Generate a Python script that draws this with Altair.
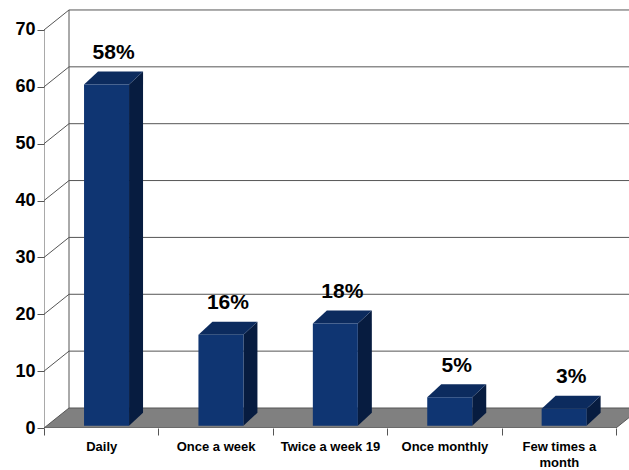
import json
import altair as alt
import pandas as pd

# ---- data ----
categories = ["Daily", "Once a week", "Twice a week 19", "Once monthly", "Few times a month"]
values = [60, 16, 18, 5, 3]
pct_labels = ["58%", "16%", "18%", "5%", "3%"]
y_ticks = [0, 10, 20, 30, 40, 50, 60, 70]

# ---- 3-D style constants (scale units) ----
SLOT_PX = 114.4
UNIT_PX = 5.686
PLOT_W, PLOT_H = 585, 423
X_MAX = PLOT_W / SLOT_PX
Y_MAX = PLOT_H / UNIT_PX
FLOOR_DX, FLOOR_DY = 25 / SLOT_PX, 20 / UNIT_PX
BAR_LEFT, BAR_W = 0.35, 45 / SLOT_PX
BAR_DX, BAR_DY = 14 / SLOT_PX, 13 / UNIT_PX
BAR_OY = 0.4
LABEL_GAP = 5.5
N = len(categories)
TOP = max(y_ticks)

FRONT = "#0f3572"
SIDE = "#071c40"
TOPC = "#0c2b5e"
FLOOR = "#808080"
LINE = "#555555"
FONT = "Liberation Sans"

xs = alt.Scale(domain=[0, X_MAX], nice=False, zero=False)
ys = alt.Scale(domain=[0, Y_MAX], nice=False, zero=False)


def wrap(t):
    return t.rsplit(" ", 1) if len(t) > 15 else t


label_arr = "[" + ",".join(json.dumps(wrap(c)) for c in categories) + "]"
x_axis = alt.Axis(
    values=list(range(N + 1)), tickSize=7, tickColor=LINE, domain=False, grid=False,
    labelExpr=f"datum.value < {N} ? {label_arr}[datum.value] : ''",
    labelOffset=SLOT_PX / 2, labelAlign="center", labelFlush=False, labelOverlap=False,
    labelBound=False, labelFont=FONT, labelFontSize=13, labelFontWeight="bold",
    labelColor="black", labelPadding=5, labelLineHeight=16, title="",
)
y_axis = alt.Axis(
    values=y_ticks, tickSize=7, tickColor=LINE, domain=False, grid=False,
    labelFont=FONT, labelFontSize=18, labelFontWeight="bold", labelColor="black",
    labelPadding=2, labelOverlap=False, labelFlush=False, title="",
)

X = lambda: alt.X("x:Q", scale=xs, axis=x_axis)
Y = lambda: alt.Y("y:Q", scale=ys, axis=y_axis)

# floor parallelogram
floor_df = pd.DataFrame({
    "x": [0, FLOOR_DX, N, N + FLOOR_DX],
    "y": [0, 0, 0, FLOOR_DY],
    "y2": [0, FLOOR_DY, FLOOR_DY, FLOOR_DY],
})
floor = alt.Chart(floor_df).mark_area(color=FLOOR, clip=True).encode(x=X(), y=Y(), y2="y2:Q")

# back wall gridlines
grid_df = pd.DataFrame({"v": y_ticks})
grid_df["y"] = grid_df["v"] + FLOOR_DY
grid_df["x"] = FLOOR_DX
grid_df["x2"] = N + FLOOR_DX
grid = alt.Chart(grid_df).mark_rule(color=LINE, strokeWidth=1, clip=True).encode(
    x=X(), x2="x2:Q", y=Y(),
)

# side wall diagonals
diag_df = pd.DataFrame({"v": y_ticks})
diag_df["x"] = 0.0
diag_df["x2"] = FLOOR_DX
diag_df["y"] = diag_df["v"]
diag_df["y2"] = diag_df["v"] + FLOOR_DY
diag = alt.Chart(diag_df).mark_rule(color=LINE, strokeWidth=1).encode(
    x=X(), x2="x2:Q", y=Y(), y2="y2:Q",
)

# frame lines: front axis, back wall left edge, floor front edge, floor right edge
frame_df = pd.DataFrame({
    "x": [0, FLOOR_DX, 0, N],
    "x2": [0, FLOOR_DX, N, N + FLOOR_DX],
    "y": [0, FLOOR_DY, 0, 0],
    "y2": [TOP, FLOOR_DY + TOP, 0, FLOOR_DY],
})
frame = alt.Chart(frame_df).mark_rule(color=LINE, strokeWidth=1, clip=True).encode(
    x=X(), x2="x2:Q", y=Y(), y2="y2:Q",
)

# bars
front_rows, side_rows, top_rows, lab_rows = [], [], [], []
for i, (c, v, p) in enumerate(zip(categories, values, pct_labels)):
    x0 = i + BAR_LEFT
    x1 = x0 + BAR_W
    b = BAR_OY
    t = BAR_OY + v
    front_rows.append({"c": c, "x": x0, "x2": x1, "y": b, "y2": t})
    side_rows += [
        {"c": c, "x": x1, "y": b, "y2": t},
        {"c": c, "x": x1 + BAR_DX, "y": b + BAR_DY, "y2": t + BAR_DY},
    ]
    top_rows += [
        {"c": c, "x": x0, "y": t, "y2": t},
        {"c": c, "x": x0 + BAR_DX, "y": t, "y2": t + BAR_DY},
        {"c": c, "x": x1, "y": t, "y2": t + BAR_DY},
        {"c": c, "x": x1 + BAR_DX, "y": t + BAR_DY, "y2": t + BAR_DY},
    ]
    lab_rows.append({"c": c, "x": (x0 + x1) / 2 + BAR_DX / 2, "y": t + LABEL_GAP, "t": p})

front = alt.Chart(pd.DataFrame(front_rows)).mark_rect(color=FRONT).encode(
    x=X(), x2="x2:Q", y=Y(), y2="y2:Q",
)
side = alt.Chart(pd.DataFrame(side_rows)).mark_area(color=SIDE).encode(
    x=X(), y=Y(), y2="y2:Q", detail="c:N",
)
topf = alt.Chart(pd.DataFrame(top_rows)).mark_area(color=TOPC).encode(
    x=X(), y=Y(), y2="y2:Q", detail="c:N",
)
labels = alt.Chart(pd.DataFrame(lab_rows)).mark_text(
    font=FONT, fontSize=21, fontWeight="bold", color="black", baseline="middle", align="center"
).encode(x=X(), y=Y(), text="t:N")

chart = alt.layer(floor, grid, diag, frame, side, topf, front, labels).properties(
    width=PLOT_W, height=PLOT_H,
    padding={"left": 44, "top": 5, "right": 0, "bottom": 42},
    autosize=alt.AutoSizeParams(type="none"),
    background="white",
).configure_view(strokeWidth=0)

chart.save("out.html", embed_options={"renderer": "svg", "actions": False})
